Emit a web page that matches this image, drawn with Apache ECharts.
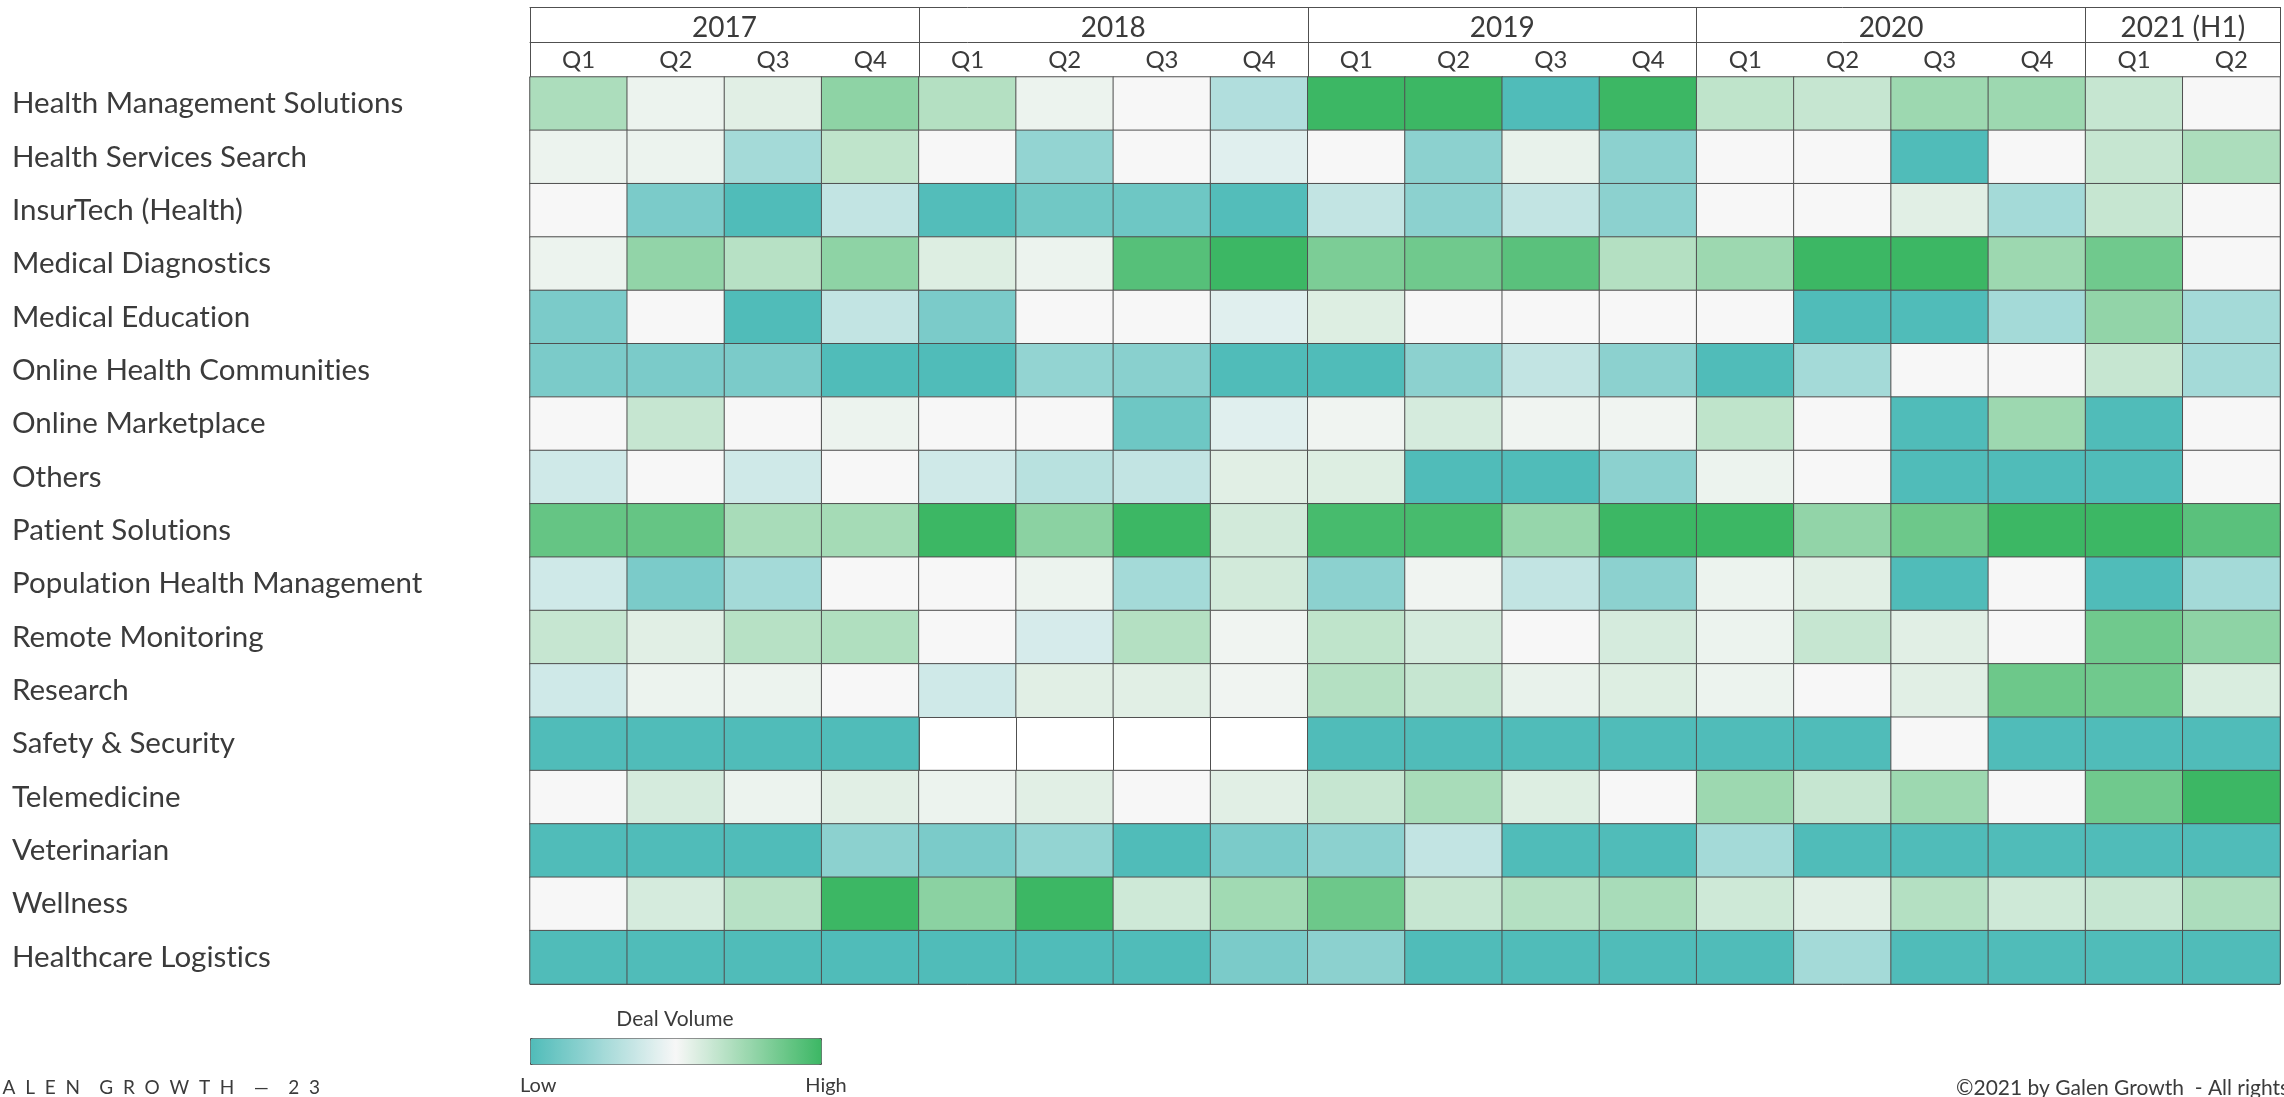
<!DOCTYPE html>
<html><head><meta charset="utf-8">
<script src="https://cdn.jsdelivr.net/npm/echarts@6/dist/echarts.min.js"></script>
<style>html,body{margin:0;padding:0;background:#fff;overflow:hidden}#c{width:2284px;height:1097px}</style>
</head><body><div id="c"></div>
<script>
// ---- data (relative deal volume: 0 = Low, 10 = High; null = no data) ----
const categories = [
  'Health Management Solutions','Health Services Search','InsurTech (Health)','Medical Diagnostics',
  'Medical Education','Online Health Communities','Online Marketplace','Others','Patient Solutions',
  'Population Health Management','Remote Monitoring','Research','Safety & Security','Telemedicine',
  'Veterinarian','Wellness','Healthcare Logistics'
];
const quarters = ['Q1','Q2','Q3','Q4','Q1','Q2','Q3','Q4','Q1','Q2','Q3','Q4','Q1','Q2','Q3','Q4','Q1','Q2'];
const years = ['2017','2018','2019','2020','2021 (H1)'];
const yearQuarterCounts = [4,4,4,4,2];

const healthManagementSolutions = [7.0,5.3,5.6,7.8, 6.8,5.3,5.0,2.9, 10,10,0,10, 6.5,6.3,7.4,7.4, 6.3,5.0];
const healthServicesSearch      = [5.3,5.3,2.5,6.5, 5.0,2.0,5.0,4.3, 5.0,1.8,5.4,1.8, 5.0,5.0,0,5.0, 6.3,7.0];
const insurTech                 = [5.0,1.3,0,3.4, 0.1,1.0,0.9,0.1, 3.4,1.8,3.4,1.8, 5.0,5.0,5.6,2.5, 6.3,5.0];
const medicalDiagnostics        = [5.3,7.7,6.7,7.8, 5.7,5.3,9.3,10, 8.3,8.6,9.2,6.8, 7.4,10,10,7.4, 8.6,5.0];
const medicalEducation          = [1.3,5.0,0,3.4, 1.3,5.0,5.0,4.3, 5.7,5.0,5.0,5.0, 5.0,0,0,2.5, 7.7,2.5];
const onlineHealthCommunities   = [1.3,1.3,1.3,0, 0,2.0,1.7,0, 0,1.8,3.4,1.8, 0,2.5,5.0,5.0, 6.3,2.5];
const onlineMarketplace         = [5.0,6.3,5.0,5.3, 5.0,5.0,0.9,4.3, 5.2,5.9,5.2,5.2, 6.5,5.0,0,7.4, 0,5.0];
const others                    = [3.8,5.0,3.8,5.0, 3.8,3.1,3.4,5.6, 5.7,0,0,1.8, 5.3,5.0,0,0, 0,5.0];
const patientSolutions          = [8.9,8.9,7.1,7.2, 10,7.9,10,6.0, 9.7,9.7,7.6,10, 10,7.7,8.7,10, 10,9.2];
const populationHealthMgmt      = [3.8,1.3,2.5,5.0, 5.0,5.3,2.5,6.0, 1.8,5.2,3.4,1.8, 5.3,5.6,0,5.0, 0,2.5];
const remoteMonitoring          = [6.3,5.6,6.7,6.9, 5.0,4.0,6.8,5.2, 6.5,5.9,5.0,5.9, 5.3,6.3,5.6,5.0, 8.6,7.8];
const research                  = [3.8,5.3,5.3,5.0, 3.8,5.6,5.6,5.2, 6.8,6.3,5.4,5.7, 5.3,5.0,5.6,8.7, 8.6,5.8];
const safetySecurity            = [0,0,0,0, null,null,null,null, 0,0,0,0, 0,0,5.0,0, 0,0];
const telemedicine              = [5.0,5.9,5.3,5.6, 5.3,5.6,5.0,5.6, 6.3,7.1,5.7,5.0, 7.4,6.3,7.4,5.0, 8.6,10];
const veterinarian              = [0,0,0,1.8, 1.3,2.0,0,1.3, 1.8,3.4,0,0, 2.5,0,0,0, 0,0];
const wellness                  = [5.0,5.9,6.7,10, 7.9,10,6.1,7.3, 8.7,6.3,6.8,7.1, 6.1,5.6,6.8,6.1, 6.3,7.0];
const healthcareLogistics       = [0,0,0,0, 0,0,0,1.3, 1.8,0,0,0, 0,2.5,0,0, 0,0];

const rows = [healthManagementSolutions, healthServicesSearch, insurTech, medicalDiagnostics,
  medicalEducation, onlineHealthCommunities, onlineMarketplace, others, patientSolutions,
  populationHealthMgmt, remoteMonitoring, research, safetySecurity, telemedicine,
  veterinarian, wellness, healthcareLogistics];

// ---- build ----
const heatData = [];
rows.forEach((r, yi) => r.forEach((v, xi) => { if (v !== null) heatData.push([xi, yi, v]); }));

const yearBounds = [0];
yearQuarterCounts.forEach(n => yearBounds.push(yearBounds[yearBounds.length - 1] + n));
const yearCenters = yearQuarterCounts.map((n, i) => yearBounds[i] + n / 2);
const nQ = quarters.length;

const LINE = '#505050';
const TXT = '#3b3b3b';
const FONT = 'Lato';
// avoid Lato's "ti" ligature (the reference shows plain letters)
const noLig = s => String(s).replace(/ti/g, 't\u200Ci');

const chart = echarts.init(document.getElementById('c'), null, {renderer: 'canvas'});
chart.setOption({
  animation: false,
  backgroundColor: '#ffffff',
  textStyle: {fontFamily: FONT},
  grid: {left: 530, top: 77, width: 1750, height: 907, containLabel: false},
  xAxis: [
    { type: 'category', data: quarters, position: 'top', gridIndex: 0,
      axisLine: {show: true, lineStyle: {color: LINE, width: 1}},
      axisTick: {show: false},
      axisLabel: {fontSize: 24, color: TXT, fontFamily: FONT, margin: 5, lineHeight: 24},
      splitLine: {show: true, lineStyle: {color: LINE, width: 1}} },
    { type: 'value', position: 'top', offset: 35, min: 0, max: nQ, gridIndex: 0,
      axisLine: {show: true, lineStyle: {color: LINE, width: 1}},
      axisTick: {show: true, customValues: yearBounds, length: 35, lineStyle: {color: LINE, width: 1}},
      axisLabel: {show: true, customValues: yearCenters, fontSize: 28, color: TXT, fontFamily: FONT, margin: 0, lineHeight: 28,
        formatter: v => years[yearCenters.indexOf(v)]},
      splitLine: {show: false} },
    { type: 'value', position: 'top', offset: 0, min: 0, max: nQ, gridIndex: 0,
      axisLine: {show: false},
      axisTick: {show: true, customValues: yearBounds, length: 35, lineStyle: {color: LINE, width: 1}},
      axisLabel: {show: false}, splitLine: {show: false} },
    { type: 'value', position: 'top', offset: 70, min: 0, max: nQ, gridIndex: 0,
      axisLine: {show: true, lineStyle: {color: LINE, width: 1}},
      axisTick: {show: false}, axisLabel: {show: false}, splitLine: {show: false} }
  ],
  yAxis: {
    type: 'category', data: categories, inverse: true,
    axisLine: {show: false}, axisTick: {show: false},
    axisLabel: {fontSize: 29.5, color: TXT, fontFamily: FONT, align: 'left', margin: 518, padding: [12, 0, 0, 0],
      formatter: v => noLig(v)},
    splitLine: {show: true, lineStyle: {color: LINE, width: 1}}
  },
  visualMap: {
    type: 'continuous', min: 0, max: 10, dimension: 2, seriesIndex: 0,
    calculable: false, hoverLink: false, realtime: false,
    orient: 'horizontal', left: 530, top: 1038,
    itemWidth: 26, itemHeight: 291, text: null, showLabel: false,
    padding: 0, borderColor: LINE, borderWidth: 1,
    inRange: {color: ['#50bcb9', '#f7f7f7', '#3cb764']}
  },
  series: [{
    type: 'heatmap', data: heatData, xAxisIndex: 0, yAxisIndex: 0,
    itemStyle: {borderColor: LINE, borderWidth: 1},
    emphasis: {disabled: true}, silent: true
  }],
  graphic: [
    {type: 'text', x: 675, y: 1019, style: {text: 'Deal Volume', fill: TXT, font: '21px Lato', textAlign: 'center', textVerticalAlign: 'middle'}},
    {type: 'text', x: 520, y: 1086, style: {text: 'Low', fill: TXT, font: '20px Lato', textAlign: 'left', textVerticalAlign: 'middle'}},
    {type: 'text', x: 826, y: 1086, style: {text: 'High', fill: TXT, font: '20px Lato', textAlign: 'center', textVerticalAlign: 'middle'}},
    {type: 'text', x: -21, y: 1088, style: {text: 'G  A  L  E  N    G  R  O  W  T  H    \u2014    2  3', fill: TXT, font: '19px Lato', textAlign: 'left', textVerticalAlign: 'middle'}},
    {type: 'text', x: 1956, y: 1088, style: {text: '\u00a92021 by Galen Growth  - All rights reserved', fill: TXT, font: '21px Lato', textAlign: 'left', textVerticalAlign: 'middle'}}
  ]
});
</script></body></html>
